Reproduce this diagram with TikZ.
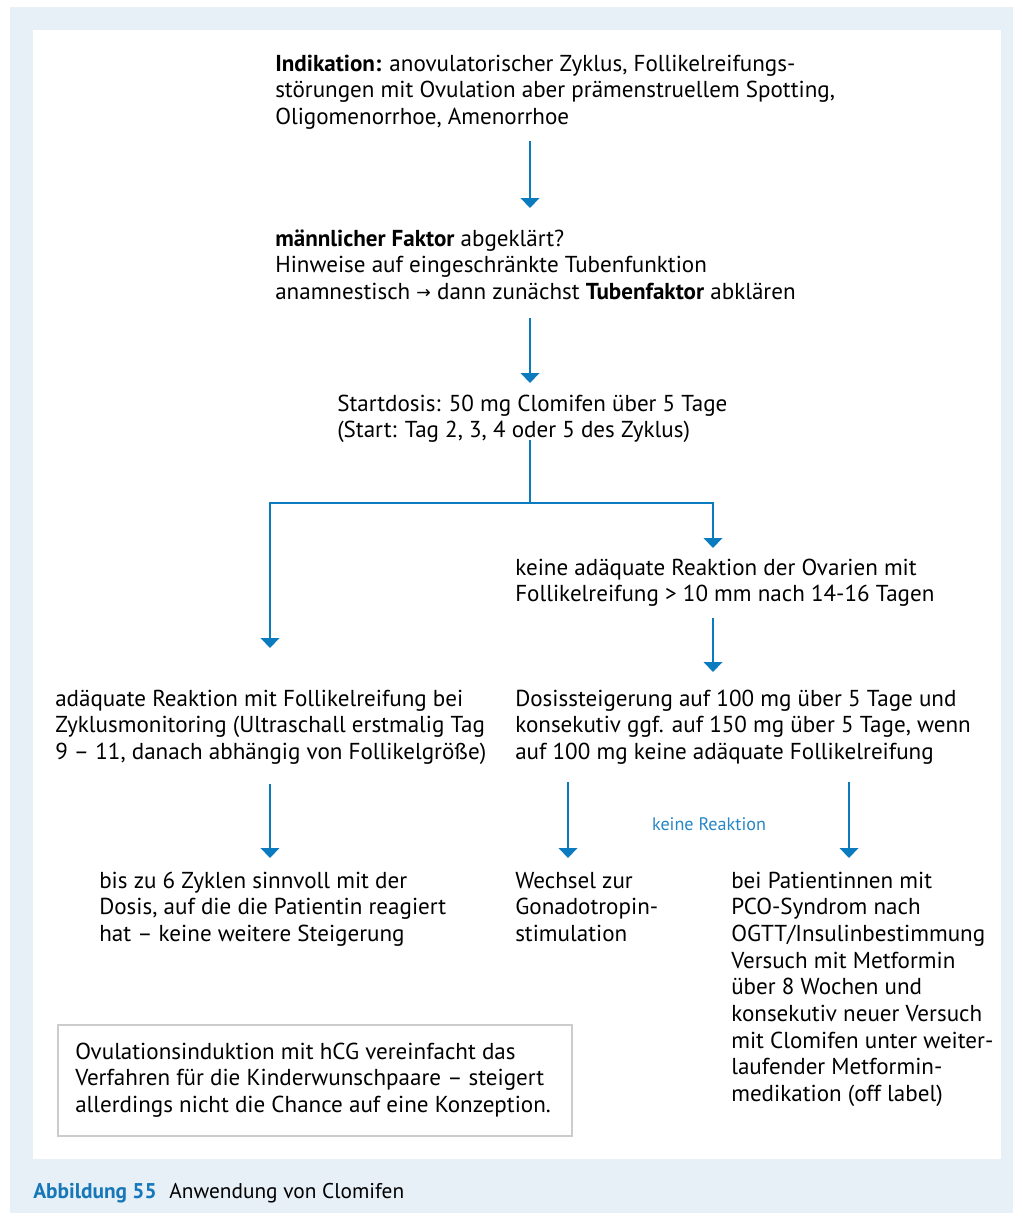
\documentclass[tikz,border=0pt]{standalone}
\usepackage{fontspec}
\setmainfont{PT Sans}
\newfontfamily\symfont{DejaVu Sans}
\usetikzlibrary{arrows.meta}
\definecolor{arrowblue}{HTML}{0B7BC0}
\definecolor{capblue}{HTML}{1677B9}
\definecolor{labblue}{HTML}{2787C6}
\definecolor{bgblue}{HTML}{E7EFF7}
\definecolor{notegray}{HTML}{CCCCCC}
\newcommand{\fs}{\rule{0pt}{15pt}}
\tikzset{
  txt/.style={anchor=north west, inner sep=0pt, align=left, font=\fontsize{17.3}{20}\selectfont},
  flow/.style={draw=arrowblue, line width=1.1pt, -{Triangle[width=14pt,length=7.5pt]}},
  flowline/.style={draw=arrowblue, line width=1.1pt},
}
\begin{document}
\begin{tikzpicture}[x=0.75pt,y=-0.75pt]
\useasboundingbox (0,0) rectangle (1013,1214);
\fill[bgblue] (10,7) rectangle (1013,1213);
\fill[white] (33,30) rectangle (1001,1159);

\node[txt] (ind) at (275,51) {\fs\textbf{Indikation:} anovulatorischer Zyklus, Follikelreifungs-\\st\"orungen mit Ovulation aber pr\"amenstruellem Spotting,\\Oligomenorrhoe, Amenorrhoe};
\node[txt] (mf) at (275,226) {\fs\textbf{m\"annlicher Faktor} abgekl\"art?\\Hinweise auf eingeschr\"ankte Tubenfunktion\\anamnestisch {\symfont\fontsize{13}{14}\selectfont\raisebox{0.5pt}{→}} dann zun\"achst \textbf{Tubenfaktor} abkl\"aren};
\node[txt] (sd) at (337,391) {\fs Startdosis: 50 mg Clomifen \"uber 5 Tage\\(Start: Tag 2, 3, 4 oder 5 des Zyklus)};
\node[txt] (kar) at (515,555) {\fs keine ad\"aquate Reaktion der Ovarien mit\\Follikelreifung > 10 mm nach 14-16 Tagen};
\node[txt] (ar) at (55,686) {\fs ad\"aquate Reaktion mit Follikelreifung bei\\Zyklusmonitoring (Ultraschall erstmalig Tag\\9 -- 11, danach abh\"angig von Follikelgr\"o\ss e)};
\node[txt] (ds) at (515,686) {\fs Dosissteigerung auf 100 mg \"uber 5 Tage und\\konsekutiv ggf. auf 150 mg \"uber 5 Tage, wenn\\auf 100 mg keine ad\"aquate Follikelreifung};
\node[txt] (bz) at (99,868) {\fs bis zu 6 Zyklen sinnvoll mit der\\Dosis, auf die die Patientin reagiert\\hat -- keine weitere Steigerung};
\node[txt] (wz) at (515,868) {\fs Wechsel zur\\Gonadotropin-\\stimulation};
\node[txt] (pco) at (731,868) {\fs bei Patientinnen mit\\PCO-Syndrom nach\\OGTT/Insulinbestimmung\\Versuch mit Metformin\\\"uber 8 Wochen und\\konsekutiv neuer Versuch\\mit Clomifen unter weiter-\\laufender Metformin-\\medikation (off label)};

\draw[notegray, line width=1.8pt] (58,1025) rectangle (572,1136);
\node[txt] (note) at (75,1039) {\fs Ovulationsinduktion mit hCG vereinfacht das\\Verfahren f\"ur die Kinderwunschpaare -- steigert\\allerdings nicht die Chance auf eine Konzeption.};

\node[font=\fontsize{13.6}{15}\selectfont, text=labblue, inner sep=0pt] (kr) at (709,824) {keine Reaktion};

\node[anchor=base west, inner sep=0pt, font=\fontsize{16}{18}\selectfont] (cap) at (33,1198) {\textcolor{capblue}{\textbf{Abbildung 55}}\hspace{0.6em}Anwendung von Clomifen};

% arrow end coordinates
\coordinate (a1s) at (530,141); \coordinate (a1e) at (530,208);
\coordinate (a2s) at (530,318); \coordinate (a2e) at (530,383);
\coordinate (bs) at (530,440); \coordinate (bm) at (530,503);
\coordinate (bl) at (270,503); \coordinate (br) at (713,503);
\coordinate (ble) at (270,648); \coordinate (bre) at (713,548);
\coordinate (a3s) at (713,618); \coordinate (a3e) at (713,672);
\coordinate (a4s) at (270,784); \coordinate (a4e) at (270,858);
\coordinate (a5s) at (568,782); \coordinate (a5e) at (568,858);
\coordinate (a6s) at (849,782); \coordinate (a6e) at (849,858);

\draw[flow] (a1s) -- (a1e);
\draw[flow] (a2s) -- (a2e);
\draw[flowline] (bs) -- (bm);
\draw[flow] (bm) -- (bl) -- (ble);
\draw[flow] (bm) -- (br) -- (bre);
\draw[flow] (a3s) -- (a3e);
\draw[flow] (a4s) -- (a4e);
\draw[flow] (a5s) -- (a5e);
\draw[flow] (a6s) -- (a6e);
\end{tikzpicture}
\end{document}
